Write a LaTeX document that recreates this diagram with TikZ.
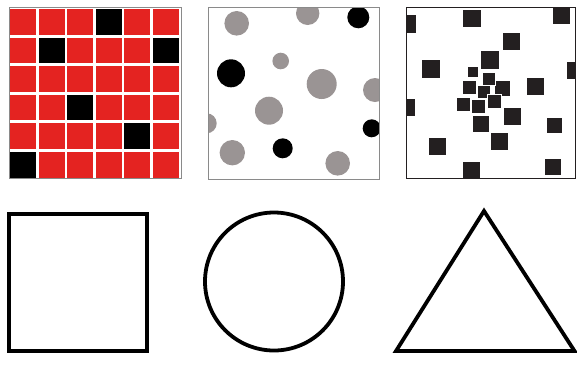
\documentclass[tikz,border=0pt]{standalone}
\usetikzlibrary{calc}
\definecolor{tilered}{HTML}{E42321}
\definecolor{dotgray}{HTML}{9A9494}
\definecolor{ink}{HTML}{231F20}
\definecolor{framegray}{HTML}{8A8A8A}
\tikzset{line width=.8pt,
  panel/.style={draw=framegray,line width=1pt},
  tile/.style={fill=tilered},
  darktile/.style={fill=black},
  dot/.style={fill=dotgray},
  darkdot/.style={fill=black},
  blob/.style={fill=ink,draw=white,line width=.5pt},
  outline/.style={draw=black,line width=3.8pt}}

\begin{document}
\begin{tikzpicture}[x=1pt,y=-1pt]
\useasboundingbox (0,0) rectangle (577,368);
% grid panel
\foreach \r in {0,...,5} \foreach \c in {0,...,5}
  \fill[tile] (10+28.6*\c,9+28.6*\r) rectangle ++(26,25.6);
\foreach \r/\c in {0/3,1/1,1/5,3/2,4/4,5/0}
  \fill[darktile] (10+28.6*\c,9+28.6*\r) rectangle ++(26,25.6);
\draw[panel] (9,7.5) rectangle (181,178.5);
% dots panel
\begin{scope}
\clip (208,7) rectangle (379,179);
\foreach \x/\y/\s in {236.7/23.3/12.3,307.7/13.3/11.7,280.7/61/8.3,321.7/84/15,
  375/90/12,269/110.7/14,206.7/123.3/10,232.3/152.7/12.7,337.7/163.3/12.3}
  \fill[dot] (\x,\y) circle (\s);
\foreach \x/\y/\s in {358.3/17.3/11,231/73.3/14,371.7/128.3/9,282.7/148.3/10}
  \fill[darkdot] (\x,\y) circle (\s);
\end{scope}
\draw[panel] (208,7) rectangle (379,179);
% scattered squares panel
\begin{scope}
\clip (406.5,7) rectangle (575,178);
\foreach \x/\y/\s in {407/24/19,471.7/18.3/18.7,561/15/18,511.7/41/18,431/68.3/19,
  490/60/19,535/86/18,575/70/18,406.5/107/18,512.3/116.7/18,481/123.3/17,
  554.3/125/16,499/141.7/18,437.7/146.7/18,471.7/170/18,552.3/166.7/17,
  472.3/71.7/11,502.3/88.3/16.7,469/87.3/14,488.3/78.3/13,483.3/91.7/13,
  463.3/104/14,478.3/106/14,494.3/101.7/14}
  \filldraw[blob] (\x-\s/2,\y-\s/2) rectangle ++(\s,\s);
\end{scope}
\draw[draw=ink,line width=1pt] (406.5,7) rectangle (575,178);
% outline shapes
\draw[outline] (9,214) rectangle (147,351);
\draw[outline] (274,281.5) circle (69);
\draw[outline,line join=miter] (484,211) -- (574.5,351) -- (396,351) -- cycle;
\end{tikzpicture}
\end{document}
